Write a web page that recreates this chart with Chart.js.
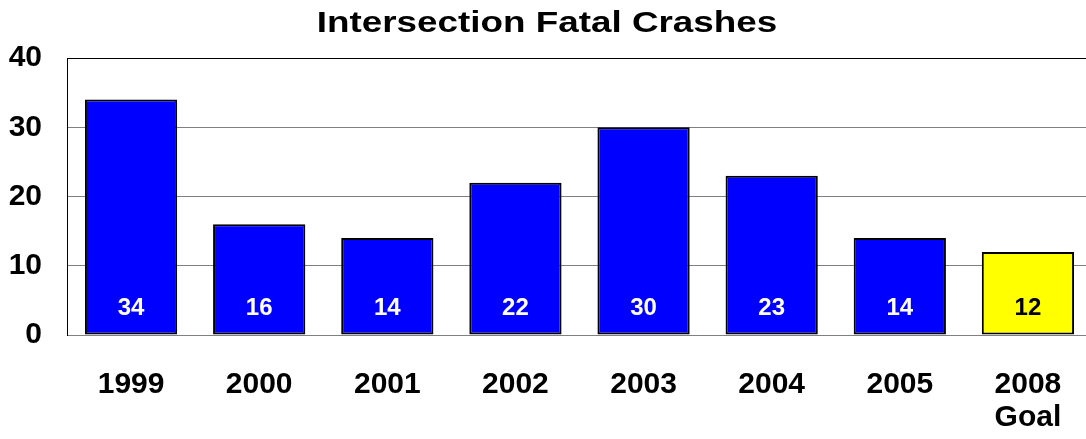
<!DOCTYPE html>
<html>
<head>
  <title>Intersection Fatal Crashes</title>
  <script src="https://cdn.jsdelivr.net/npm/chart.js"></script>
  <style>
    html, body { margin: 0; padding: 0; background: #fff; overflow: hidden; }
    #wrap { width: 1092px; height: 439px; }
  </style>
</head>
<body>
  <div id="wrap"><canvas id="crashChart"></canvas></div>

  <script>
    const years = [['1999'], ['2000'], ['2001'], ['2002'], ['2003'], ['2004'], ['2005'], ['2008', 'Goal']];
    const crashes = [34, 16, 14, 22, 30, 23, 14, 12];
    const barColors = ['#0000ff', '#0000ff', '#0000ff', '#0000ff', '#0000ff', '#0000ff', '#0000ff', '#ffff00'];
    const labelColors = ['#fff', '#fff', '#fff', '#fff', '#fff', '#fff', '#fff', '#000'];
    const yTicks = [0, 10, 20, 30, 40];
    const chartTitle = 'Intersection Fatal Crashes';

    const fontFam = '"Liberation Sans", Arial, sans-serif';

    // the original title is a bit wider than normal Arial, so stretch it
    const wideTitle = {
      id: 'wideTitle',
      afterDraw(chart) {
        const ctx = chart.ctx;
        ctx.save();
        ctx.font = 'bold 29px ' + fontFam;
        ctx.fillStyle = '#000';
        ctx.textAlign = 'center';
        ctx.textBaseline = 'alphabetic';
        ctx.translate(chart.width / 2 + 1, 32);
        ctx.scale(1.27, 1);
        ctx.fillText(chartTitle, 0, 0);
        ctx.restore();
      }
    };

    // value labels sit near the bottom of each bar
    const barLabels = {
      id: 'barLabels',
      afterDatasetsDraw(chart) {
        const ctx = chart.ctx;
        const meta = chart.getDatasetMeta(0);
        const base = chart.scales.y.getPixelForValue(0);
        ctx.save();
        ctx.font = 'bold 24px ' + fontFam;
        ctx.textAlign = 'center';
        ctx.textBaseline = 'middle';
        meta.data.forEach((bar, i) => {
          ctx.fillStyle = labelColors[i];
          ctx.fillText(String(crashes[i]), bar.x, base - 27);
        });
        ctx.restore();
      }
    };

    new Chart(document.getElementById('crashChart'), {
      type: 'bar',
      data: {
        labels: years,
        datasets: [{
          data: crashes,
          backgroundColor: barColors,
          borderColor: '#000',
          borderWidth: 2,
          borderSkipped: false,
          barPercentage: 0.72,
          categoryPercentage: 1
        }]
      },
      options: {
        responsive: true,
        maintainAspectRatio: false,
        animation: false,
        layout: { padding: { top: 58 } },
        plugins: {
          legend: { display: false },
          tooltip: { enabled: false },
          title: { display: false }
        },
        scales: {
          x: {
            grid: { display: false },
            border: { display: false },
            ticks: {
              color: '#000',
              padding: 25,
              maxRotation: 0,
              font: { family: fontFam, size: 30, weight: 'bold', lineHeight: 1.1 }
            },
            afterFit(scale) { scale.height = 104; }
          },
          y: {
            min: 0,
            max: 40,
            afterBuildTicks(scale) { scale.ticks = yTicks.map(v => ({ value: v })); },
            grid: {
              color: ctx => ctx.tick && ctx.tick.value === 40 ? '#000' : '#808080',
              lineWidth: 1,
              drawTicks: false
            },
            border: { display: true, color: '#000', width: 1 },
            ticks: {
              color: '#000',
              padding: 25,
              font: { family: fontFam, size: 30, weight: 'bold' }
            },
            afterFit(scale) { scale.width = 67; }
          }
        }
      },
      plugins: [barLabels, wideTitle]
    });
  </script>
</body>
</html>
